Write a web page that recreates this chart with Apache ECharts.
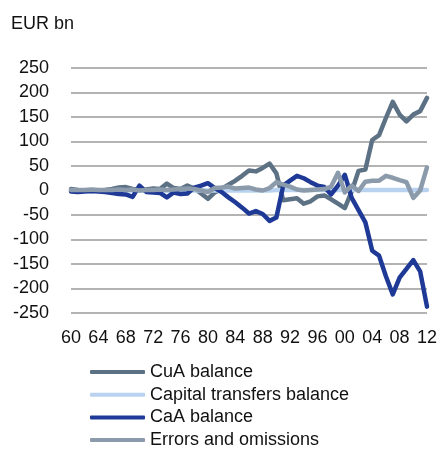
<!DOCTYPE html>
<html>
<head>
<meta charset="utf-8">
<script src="https://cdn.jsdelivr.net/npm/echarts@6/dist/echarts.min.js"></script>
<style>
  html, body { margin: 0; padding: 0; background: #fff; }
  #chart { width: 440px; height: 450px; }
</style>
</head>
<body>
<div id="chart"></div>
<script>
// years 1960 - 2012
const years = [];
for (let y = 1960; y <= 2012; y++) years.push(String(y));

const cuaBalance = [
  3, 1, 0, -1, 0, 1, 3, 6, 7, 3,
  1, 2, 4, 3, 14, 5, 3, 10, 4, -6,
  -17, -4, 3, 12, 20, 30, 41, 39, 46, 55,
  35, -20, -18, -16, -27, -22, -12, -10, -18, -27,
  -36, -2, 40, 43, 103, 113, 148, 181, 155, 141,
  155, 162, 189
];
const capitalTransfers = [
  0, 0, 0, 0, 0, 0, 0, 0, 0, 0,
  0, 0, 0, 0, 0, 0, 0, 0, 0, 0,
  0, 0, 0, 0, 0, 0, 0, 0, 0, 0,
  1, 1, 1, 1, 1, 1, 1, 1, 1, 1,
  1, 1, 1, 1, 1, 1, 1, 1, 1, 1,
  1, 1, 1
];
const caaBalance = [
  -2, -3, -2, -1, -2, -3, -5, -7, -8, -13,
  10, -3, -4, -5, -14, -4, -7, -6, 6, 10,
  15, 5, -3, -14, -24, -35, -47, -42, -48, -62,
  -55, 10, 20, 30, 25, 17, 10, 7, -8, 10,
  32, -15, -40, -65, -123, -133, -175, -212, -178, -160,
  -142, -165, -237
];
const errorsOmissions = [
  1, 1, 1, 2, 1, 1, 1, 2, 1, 2,
  0, 1, 1, 2, 1, 2, 3, 4, 3, 0,
  -3, 5, 6, 8, 4, 5, 6, 2, 0, 5,
  17, 12, 8, 2, 0, 1, 2, 3, 8, 36,
  -4, 10, -1, 18, 20, 20, 30, 26, 21, 17,
  -15, 0, 47
];

const seriesNames = ['CuA balance', 'Capital transfers balance', 'CaA balance', 'Errors and omissions'];
const seriesColors = ['#5d7184', '#b8d2ef', '#1f3a96', '#8b9bab'];
const seriesData = [cuaBalance, capitalTransfers, caaBalance, errorsOmissions];

const chart = echarts.init(document.getElementById('chart'));
const font = 'Liberation Sans, Arial, sans-serif';

chart.setOption({
  animation: false,
  title: {
    text: 'EUR bn',
    left: 6,
    top: 10,
    textStyle: { fontSize: 18, fontWeight: 'normal', color: '#111', fontFamily: font }
  },
  grid: { left: 71, right: 12, top: 68, bottom: 137 },
  legend: {
    orient: 'vertical',
    left: 90,
    top: 363,
    padding: 0,
    height: 100,
    itemWidth: 55,
    itemHeight: 4,
    itemGap: 4.7,
    icon: 'roundRect',
    textStyle: { fontSize: 18, color: '#111', fontFamily: font },
    data: seriesNames
  },
  xAxis: {
    type: 'category',
    data: years,
    boundaryGap: false,
    axisLine: { show: false },
    axisTick: { show: false },
    axisLabel: {
      interval: 3,
      margin: 16,
      fontSize: 18,
      color: '#111',
      fontFamily: font,
      formatter: (v) => v.slice(2)
    }
  },
  yAxis: {
    type: 'value',
    min: -250,
    max: 250,
    interval: 50,
    axisLine: { show: false },
    axisTick: { show: false },
    axisLabel: { fontSize: 18, color: '#111', fontFamily: font, margin: 22 },
    splitLine: { lineStyle: { color: '#9a9a9a', width: 1.5 } }
  },
  series: seriesNames.map((name, i) => ({
    name: name,
    type: 'line',
    data: seriesData[i],
    showSymbol: false,
    symbol: 'none',
    color: seriesColors[i],
    lineStyle: { width: 4.5, color: seriesColors[i], cap: 'round', join: 'round' }
  }))
});
</script>
</body>
</html>
